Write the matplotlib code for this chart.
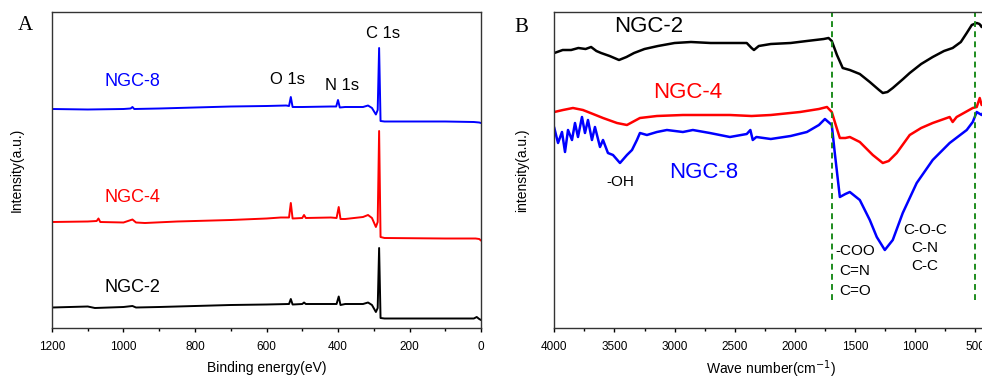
import matplotlib
matplotlib.use("Agg")
import matplotlib.pyplot as plt
from matplotlib.ticker import MultipleLocator

plt.rcParams['font.family'] = ['Liberation Sans', 'DejaVu Sans']

# ---------------- XPS survey (panel A) ----------------
xps_be_ngc8 = [1200, 1100, 1000, 980, 975, 970, 900, 800, 700, 600, 545, 537, 532, 527, 500, 420,
               405, 400, 395, 380, 330, 316, 305, 294, 289, 285, 281, 270, 100, 20, 5, 0]
xps_ngc8 = [219, 218.5, 219, 219.5, 221, 219, 219.5, 220.5, 221.5, 222, 222.5, 222, 231, 221, 221, 221.5,
            221.5, 228, 220.5, 221, 221, 222.5, 220, 213.5, 218, 280, 207, 206.5, 206.5, 206, 205.5, 205]

xps_be_ngc4 = [1200, 1100, 1075, 1070, 1065, 1000, 975, 965, 940, 850, 700, 600, 560, 537, 532, 527,
               500, 495, 490, 420, 404, 398, 393, 380, 330, 316, 305, 294, 289, 285, 281, 270, 100, 15, 5, 0]
xps_ngc4 = [106, 106.5, 107, 109.5, 106, 105.5, 108.5, 105.5, 105, 106.5, 108, 109.5, 110.5, 110.5, 125, 109.5,
            110, 113, 110, 110.5, 110, 121, 109, 109, 111, 113, 110, 101, 106, 197, 91, 90, 89.5, 89.5, 89, 87.5]

xps_be_ngc2 = [1200, 1100, 1080, 1000, 975, 965, 900, 800, 700, 600, 537, 532, 527, 500, 495, 490,
               420, 404, 398, 393, 380, 330, 316, 305, 294, 289, 285, 281, 270, 100, 20, 12, 5, 0]
xps_ngc2 = [20.5, 21.5, 20, 21, 22, 20.5, 21, 22, 23, 23.5, 24, 29, 23.5, 24, 25.5, 24,
            24, 24, 31.5, 23, 24, 24, 25.5, 23, 16, 20, 80, 10, 9.5, 9.5, 9.5, 11, 9, 8]

# ---------------- FTIR (panel B) ----------------
ir_wn_ngc2 = [4000, 3930, 3860, 3800, 3740, 3694, 3650, 3611, 3540, 3462, 3400, 3337, 3250, 3138, 3000,
              2864, 2700, 2590, 2400, 2360, 2340, 2300, 2200, 2035, 1900, 1760, 1720, 1693, 1650, 1602,
              1543, 1460, 1377, 1300, 1269, 1230, 1186, 1100, 1045, 950, 854, 760, 688, 620, 571, 529,
              488, 465, 447, 420]
ir_ngc2 = [275, 278, 278, 280, 279, 281, 277, 275, 272, 268, 271, 275, 279, 282, 285,
           286, 285, 285, 285, 280, 278, 282, 284, 285, 287, 289, 290, 287, 273, 260,
           258, 254, 246, 238, 235, 236, 240, 249, 255, 264, 271, 277, 280, 286, 295, 303,
           305, 304, 301, 306]

ir_wn_ngc4 = [4000, 3928, 3845, 3762, 3678, 3595, 3479, 3396, 3288, 3147, 2931, 2540, 2360, 2200, 1957,
              1800, 1733, 1693, 1660, 1626, 1580, 1543, 1460, 1352, 1269, 1220, 1153, 1045, 950, 854,
              713, 688, 655, 521, 488, 463, 447, 420]
ir_ngc4 = [216, 218, 220, 218, 214, 210, 205, 203, 210, 212, 213, 213, 212, 213, 216,
           219, 221, 216, 203, 190, 190, 191, 186, 173, 165, 167, 175, 193, 200, 205,
           211, 206, 211, 220, 221, 230, 223, 226]

ir_wn_ngc8 = [4000, 3969, 3936, 3911, 3886, 3853, 3828, 3803, 3770, 3745, 3720, 3687, 3662, 3620, 3595,
              3554, 3512, 3454, 3396, 3354, 3313, 3288, 3230, 3147, 3064, 2931, 2848, 2707, 2540, 2400,
              2370, 2350, 2320, 2200, 2035, 1900, 1800, 1750, 1693, 1668, 1626, 1580, 1543, 1460, 1377,
              1319, 1252, 1186, 1103, 987, 854, 713, 571, 521, 488, 447, 420]
ir_ngc8 = [200, 185, 196, 176, 198, 188, 205, 191, 211, 195, 208, 188, 201, 181, 188,
           175, 173, 165, 173, 178, 188, 195, 193, 196, 198, 196, 198, 195, 191, 194,
           198, 188, 191, 189, 192, 196, 203, 209, 203, 175, 131, 134, 136, 128, 108,
           91, 78, 88, 115, 145, 168, 185, 198, 206, 216, 213, 218]

band_positions = [1690, 500]

W, H = 982, 380
fig = plt.figure(figsize=(W / 100, H / 100), dpi=100)

def frac(l, t, r, b):
    return [l / W, 1 - b / H, (r - l) / W, (b - t) / H]

lw_sp = 1.0
axA = fig.add_axes(frac(52, 12, 481, 328))
axB = fig.add_axes(frac(554.3, 12, 987.3, 328))

# Panel A
axA.plot(xps_be_ngc8, xps_ngc8, color='#0000ff', lw=1.4)
axA.plot(xps_be_ngc4, xps_ngc4, color='#ff0000', lw=1.4)
axA.plot(xps_be_ngc2, xps_ngc2, color='black', lw=1.4)
axA.set_xlim(1200, 0)
axA.set_ylim(0, 316)
axA.xaxis.set_major_locator(MultipleLocator(200))
axA.xaxis.set_minor_locator(MultipleLocator(100))
axA.set_yticks([])
axA.set_xlabel('Binding energy(eV)', fontsize=10, labelpad=6)
axA.set_ylabel('Intensity(a.u.)', fontsize=10, labelpad=20)
axA.text(1052, 247, 'NGC-8', color='#0000ff', fontsize=13, ha='left', va='center')
axA.text(1052, 130, 'NGC-4', color='#ff0000', fontsize=13, ha='left', va='center')
axA.text(1052, 41, 'NGC-2', color='black', fontsize=13, ha='left', va='center')
axA.text(540, 248, 'O 1s', fontsize=12, ha='center', va='center')
axA.text(389, 242, 'N 1s', fontsize=12, ha='center', va='center')
axA.text(274, 295, 'C 1s', fontsize=12, ha='center', va='center')

# Panel B
axB.plot(ir_wn_ngc2, ir_ngc2, color='black', lw=1.8)
axB.plot(ir_wn_ngc4, ir_ngc4, color='#ff0000', lw=1.8)
axB.plot(ir_wn_ngc8, ir_ngc8, color='#0000ff', lw=1.8)
axB.vlines(band_positions, 28, 316, colors='#1e8c1e', linestyles=(0, (3, 2.2)), lw=1.4)
axB.set_xlim(4000, 400)
axB.set_ylim(0, 316)
axB.xaxis.set_major_locator(MultipleLocator(500))
axB.xaxis.set_minor_locator(MultipleLocator(250))
axB.set_yticks([])
axB.set_xlabel('Wave number(cm$^{-1}$)', fontsize=10, labelpad=4)
axB.set_ylabel('intensity(a.u.)', fontsize=10, labelpad=18)
axB.text(3504, 301, 'NGC-2', color='black', fontsize=16, ha='left', va='center')
axB.text(3182, 236, 'NGC-4', color='#ff0000', fontsize=16, ha='left', va='center')
axB.text(3049, 156, 'NGC-8', color='#0000ff', fontsize=16, ha='left', va='center')
axB.text(3454, 146, '-OH', fontsize=11, ha='center', va='center')
for txt, yy in zip(['-COO', 'C=N', 'C=O'], [77, 57, 37]):
    axB.text(1502, yy, txt, fontsize=11, ha='center', va='center')
for txt, yy in zip(['C-O-C', 'C-N', 'C-C'], [98, 80, 62]):
    axB.text(918, yy, txt, fontsize=11, ha='center', va='center')

for ax in (axA, axB):
    for sp in ax.spines.values():
        sp.set_linewidth(lw_sp)
        sp.set_color('#333333')
    ax.tick_params(axis='x', which='major', direction='out', length=3, width=1, labelsize=8.5, pad=6)
    ax.tick_params(axis='x', which='minor', direction='out', length=2.5, width=1)

fig.text(25 / W, 1 - 26 / H, 'A', family=['Liberation Serif'], fontsize=15, ha='center', va='center')
fig.text(521 / W, 1 - 28 / H, 'B', family=['Liberation Serif'], fontsize=15, ha='center', va='center')

fig.savefig('out.png', dpi=100)
